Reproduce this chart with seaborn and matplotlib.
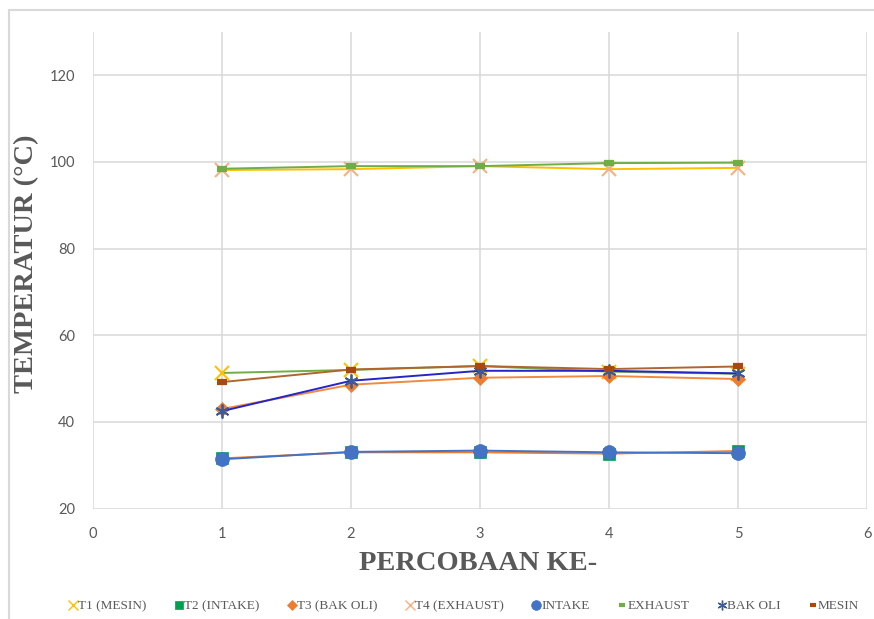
import matplotlib
matplotlib.use("Agg")
import matplotlib.pyplot as plt
from matplotlib.lines import Line2D
import seaborn as sns
import pandas as pd

# data
percobaan = [1, 2, 3, 4, 5]
t1_mesin   = [51.3, 52.0, 52.9, 51.6, 51.1]
t2_intake  = [31.6, 33.0, 33.0, 32.7, 33.3]
t3_bak_oli = [43.0, 48.6, 50.2, 50.6, 49.9]
t4_exhaust = [98.1, 98.3, 99.0, 98.3, 98.6]
intake     = [31.4, 33.1, 33.4, 33.0, 32.8]
exhaust    = [98.4, 99.0, 99.0, 99.7, 99.8]
bak_oli    = [42.5, 49.5, 51.8, 51.8, 51.2]
mesin      = [49.2, 52.1, 52.9, 52.2, 52.8]

labels = ["T1 (MESIN)", "T2 (INTAKE)", "T3 (BAK OLI)", "T4 (EXHAUST)",
          "INTAKE", "EXHAUST", "BAK OLI", "MESIN"]
series = [t1_mesin, t2_intake, t3_bak_oli, t4_exhaust,
          intake, exhaust, bak_oli, mesin]

# style per series: marker, marker colour, line colour, marker size, edge width
STAR = (6, 2, 0)
styles = [
    ("x", "#FFC000", "#70AD47", 10, 1.5),
    ("s", "#00A050", "#ED7D31", 8, 0.5),
    ("D", "#ED7D31", "#F08A40", 7, 0.5),
    ("x", "#F4B183", "#FFC000", 10, 1.5),
    ("o", "#4472C4", "#4472C4", 10, 0.5),
    ("_", "#70AD47", "#70AD47", 7, 4.5),
    (STAR, "#3A5A9A", "#2525C8", 10, 1.3),
    ("_", "#A84A10", "#B0652E", 7, 4.5),
]

df = pd.DataFrame({"percobaan": percobaan})
for lab, vals in zip(labels, series):
    df[lab] = vals

GRAY = "#595959"
GRID = "#D9D9D9"

sns.set_theme(style="white")
plt.rcParams["font.family"] = ["Lato", "DejaVu Sans"]

fig = plt.figure(figsize=(8.74, 6.19), dpi=100)
ax = fig.add_axes([93 / 874, 1 - 508.7 / 619, 774 / 874, 477 / 619])

for lab, (mk, mcol, lcol, ms, mew) in zip(labels, styles):
    filled = mk in ("s", "D", "o")
    sns.lineplot(data=df, x="percobaan", y=lab, ax=ax, color=lcol, lw=1.4,
                 marker=mk, markersize=ms,
                 markerfacecolor=mcol if filled else "none",
                 markeredgecolor=mcol, markeredgewidth=mew,
                 legend=False)

ax.set_xlim(0, 6)
ax.set_ylim(20, 130)
ax.set_xticks(range(0, 7))
ax.set_yticks(range(20, 121, 20))
ax.grid(True, color=GRID, lw=1.1)
ax.set_axisbelow(True)
for s in ax.spines.values():
    s.set_visible(False)
ax.tick_params(axis="both", length=0, labelsize=10.5, labelcolor=GRAY)
ax.tick_params(axis="x", pad=13)
ax.tick_params(axis="y", pad=13)

lab_font = dict(family=["Liberation Serif", "DejaVu Serif"], fontsize=20.5,
                fontweight="bold", color=GRAY)
ax.set_ylabel("TEMPERATUR (°C)", va="center", **lab_font)
ax.yaxis.set_label_coords(-0.0853, 0.513)
ax.set_xlabel("PERCOBAAN KE-", va="center", **lab_font)
ax.xaxis.set_label_coords(0.497, -0.114)

# legend: markers only
handles = []
for lab, (mk, mcol, lcol, ms, mew) in zip(labels, styles):
    filled = mk in ("s", "D", "o")
    hms = {"x": 7, "s": 6, "D": 5, "o": 7, "_": 5}.get(mk, 7) if mk != STAR else 7
    handles.append(Line2D([], [], linestyle="none", marker=mk, markersize=hms,
                          markerfacecolor=mcol if filled else "none",
                          markeredgecolor=mcol,
                          markeredgewidth=3 if mk == "_" else (1.0 if not filled else 0.5)))
fig.legend(handles, labels, loc="center", bbox_to_anchor=(464 / 874, 1 - 606 / 619),
           ncol=8, frameon=False, handlelength=0.6, handletextpad=0.1,
           columnspacing=2.15, prop={"family": ["Liberation Serif", "DejaVu Serif"],
                                     "size": 9.5},
           labelcolor=GRAY)

# light chart-area border (top and left edges visible in the reference)
fig.add_artist(Line2D([9 / 874, 1], [1 - 10 / 619, 1 - 10 / 619],
                      transform=fig.transFigure, color=GRID, lw=1.5))
fig.add_artist(Line2D([9 / 874, 9 / 874], [0, 1 - 10 / 619],
                      transform=fig.transFigure, color=GRID, lw=1.5))

fig.savefig("out.png", dpi=100)
